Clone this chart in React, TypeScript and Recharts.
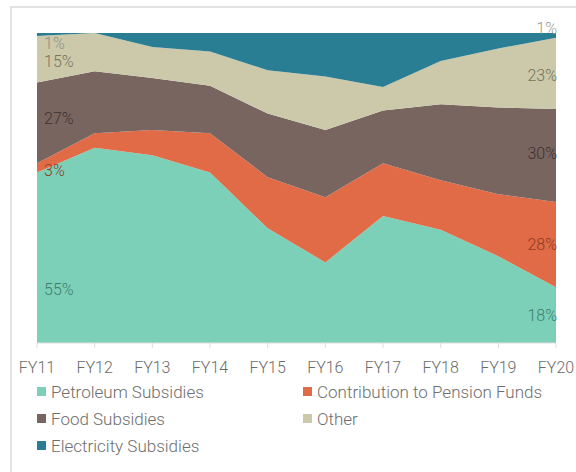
import { AreaChart, Area, XAxis, YAxis, ReferenceDot } from "recharts";

const years = ["FY11", "FY12", "FY13", "FY14", "FY15", "FY16", "FY17", "FY18", "FY19", "FY20"];
const petroleum = [55, 63, 60.6, 55, 37, 26, 41, 36.5, 28, 18];
const pension = [3, 4.7, 8.1, 12.7, 16.5, 21, 17, 16, 20, 27.5];
const food = [26, 20, 16.8, 15.3, 20.5, 21.7, 17, 24.5, 28, 30];
const other = [15, 12.3, 10, 11, 14, 17.3, 7.6, 14, 19, 23];
const electricity = [1, 0, 4.5, 6, 12, 14, 17.4, 9, 5, 1.5];

const firstLabels = ["55%", "3%", "27%", "15%", "1%"];
const lastLabels = ["18%", "28%", "30%", "23%", "1%"];

const FONT = "Roboto, 'Noto Sans', sans-serif";

const SERIES = [
  { key: "petroleum", name: "Petroleum Subsidies", values: petroleum, color: "#7dd0b8", text: "#3d7d6d" },
  { key: "pension", name: "Contribution to Pension Funds", values: pension, color: "#e06b46", text: "#8e3a22" },
  { key: "food", name: "Food Subsidies", values: food, color: "#796560", text: "#3e3230" },
  { key: "other", name: "Other", values: other, color: "#cbc9aa", text: "#75745f" },
  { key: "electricity", name: "Electricity Subsidies", values: electricity, color: "#2a7e93", text: "#8f8f88" },
];

const data = years.map((year, i) => {
  const row: Record<string, string | number> = { year };
  SERIES.forEach(s => { row[s.key] = s.values[i]; });
  return row;
});

// middle of a series band at a given point, in data units
function bandMid(seriesIdx: number, pointIdx: number) {
  let low = 0;
  for (let k = 0; k < seriesIdx; k++) low += SERIES[k].values[pointIdx];
  return low + SERIES[seriesIdx].values[pointIdx] / 2;
}

// small nudges so labels sit where the original put them
const FIRST_DY = [32, 3, -5, 2, 9];
const LAST_DY = [0, 0, -2, 2, -7];

function EdgeLabel({ viewBox, text, color, anchor, dy }: any) {
  if (!viewBox) return null;
  const x = anchor === "start" ? viewBox.x + 7 : viewBox.x + 1;
  return (
    <text
      x={x}
      y={viewBox.y + dy}
      dy="0.35em"
      textAnchor={anchor}
      fill={color}
      fontSize={16}
      fontFamily={FONT}
      fontWeight={300}
    >
      {text}
    </text>
  );
}

export default function App() {
  const last = years.length - 1;
  return (
    <div
      style={{
        position: "fixed",
        left: 0,
        top: 0,
        width: 576,
        height: 472,
        overflow: "hidden",
        background: "#fff",
        fontFamily: FONT,
      }}
    >
      <div
        style={{
          position: "absolute",
          left: 10,
          top: 6,
          width: 580,
          height: 480,
          borderLeft: "2px solid #e2e2e2",
          borderTop: "2px solid #e2e2e2",
        }}
      />
      <div style={{ position: "absolute", left: 0, top: 0 }}>
        <AreaChart width={576} height={382} data={data} margin={{ top: 33, right: 20, left: 37, bottom: 9 }}>
          <XAxis
            dataKey="year"
            height={30}
            axisLine={{ stroke: "#dddddd" }}
            tickLine={{ stroke: "#dddddd" }}
            tickSize={5}
            tickMargin={14}
            interval={0}
            tick={{ fill: "#6b6b6b", fontSize: 16, fontFamily: FONT, fontWeight: 300 }}
          />
          <YAxis hide domain={[0, 100]} />
          {SERIES.map(s => (
            <Area
              key={s.key}
              dataKey={s.key}
              name={s.name}
              stackId="1"
              type="linear"
              stroke="none"
              fill={s.color}
              fillOpacity={1}
              isAnimationActive={false}
            />
          ))}
          {SERIES.map((s, si) => (
            <ReferenceDot
              key={"f" + s.key}
              x={years[0]}
              y={bandMid(si, 0)}
              r={0}
              stroke="none"
              fill="none"
              ifOverflow="visible"
              label={(p: any) => (
                <EdgeLabel viewBox={p.viewBox} text={firstLabels[si]} color={s.text} anchor="start" dy={FIRST_DY[si]} />
              )}
            />
          ))}
          {SERIES.map((s, si) => (
            <ReferenceDot
              key={"l" + s.key}
              x={years[last]}
              y={bandMid(si, last)}
              r={0}
              stroke="none"
              fill="none"
              ifOverflow="visible"
              label={(p: any) => (
                <EdgeLabel
                  viewBox={p.viewBox}
                  text={lastLabels[si]}
                  color={si === 4 ? "#9a9a94" : s.text}
                  anchor="end"
                  dy={LAST_DY[si]}
                />
              )}
            />
          ))}
        </AreaChart>
      </div>
      <div
        style={{
          position: "absolute",
          left: 37,
          top: 378,
          display: "grid",
          gridTemplateColumns: "266px 266px",
          fontSize: 17,
          fontWeight: 300,
          color: "#6e6e6e",
        }}
      >
        {SERIES.map(s => (
          <div key={s.key} style={{ display: "flex", alignItems: "center", height: 27, whiteSpace: "nowrap" }}>
            <span style={{ display: "inline-block", width: 9, height: 9, background: s.color, marginRight: 5 }} />
            <span>{s.name}</span>
          </div>
        ))}
      </div>
    </div>
  );
}
